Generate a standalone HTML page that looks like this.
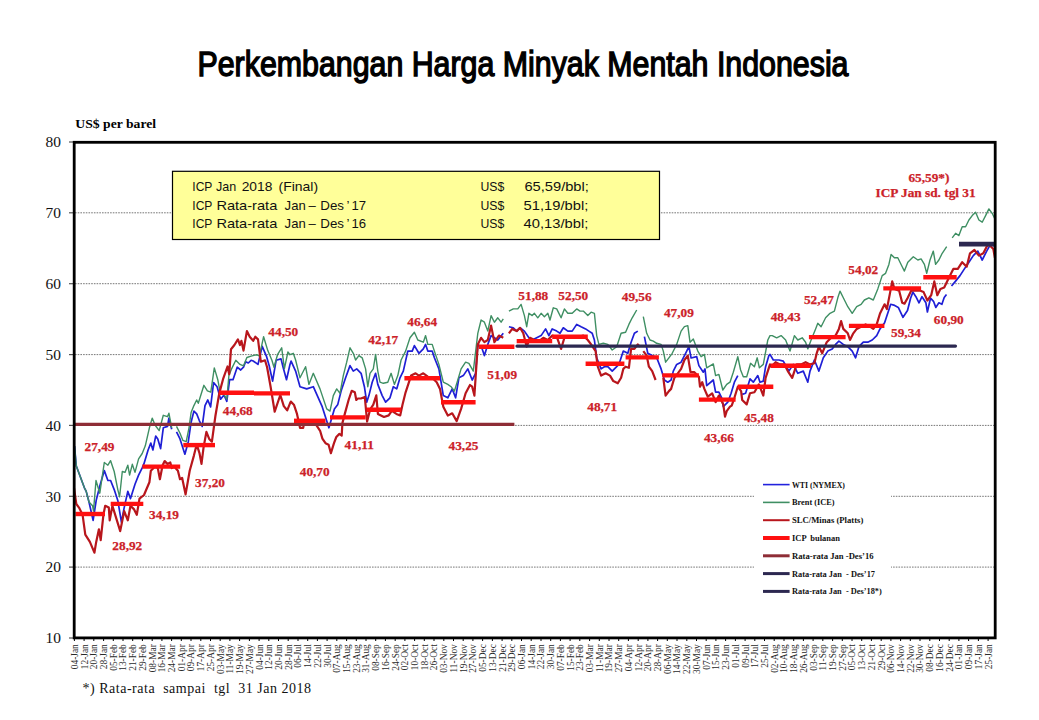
<!DOCTYPE html>
<html><head><meta charset="utf-8"><style>
html,body{margin:0;padding:0;background:#fff;width:1039px;height:720px;overflow:hidden}
svg{display:block}
.yl{font-family:"Liberation Serif",serif;font-size:14.5px;fill:#111}
.xl{font-family:"Liberation Serif",serif;font-size:9.4px;text-anchor:end;fill:#2a2a2a}
.lb{font-family:"Liberation Serif",serif;font-size:13.3px;font-weight:bold;text-anchor:middle;fill:#cc2229;stroke:#cc2229;stroke-width:0.25px}
.lg{font-family:"Liberation Serif",serif;font-size:8.4px;font-weight:bold;fill:#111}
.bx{font-family:"Liberation Sans",sans-serif;font-size:13.5px;fill:#111}
.tt{font-family:"Liberation Sans",sans-serif;font-size:35px;font-weight:normal;fill:#000;stroke:#000;stroke-width:1.4px}
.un{font-family:"Liberation Serif",serif;font-size:13px;font-weight:bold;fill:#000}
.fn{font-family:"Liberation Serif",serif;font-size:14px;fill:#111}
</style></head><body>
<svg width="1039" height="720" viewBox="0 0 1039 720">
<line x1="75" y1="212.8" x2="994" y2="212.8" stroke="#777" stroke-width="1" stroke-dasharray="1.6 1.1"/>
<line x1="75" y1="283.7" x2="994" y2="283.7" stroke="#777" stroke-width="1" stroke-dasharray="1.6 1.1"/>
<line x1="75" y1="354.6" x2="994" y2="354.6" stroke="#777" stroke-width="1" stroke-dasharray="1.6 1.1"/>
<line x1="75" y1="425.4" x2="994" y2="425.4" stroke="#777" stroke-width="1" stroke-dasharray="1.6 1.1"/>
<line x1="75" y1="496.3" x2="994" y2="496.3" stroke="#777" stroke-width="1" stroke-dasharray="1.6 1.1"/>
<line x1="75" y1="567.1" x2="994" y2="567.1" stroke="#777" stroke-width="1" stroke-dasharray="1.6 1.1"/>
<rect x="754" y="474" width="137" height="128" fill="#fff"/>
<line x1="69" y1="142.0" x2="75" y2="142.0" stroke="#555" stroke-width="1.2"/>
<text x="45.6" y="147.2" class="yl" textLength="15.4" lengthAdjust="spacingAndGlyphs">80</text>
<line x1="69" y1="212.8" x2="75" y2="212.8" stroke="#555" stroke-width="1.2"/>
<text x="45.6" y="218.0" class="yl" textLength="15.4" lengthAdjust="spacingAndGlyphs">70</text>
<line x1="69" y1="283.7" x2="75" y2="283.7" stroke="#555" stroke-width="1.2"/>
<text x="45.6" y="288.9" class="yl" textLength="15.4" lengthAdjust="spacingAndGlyphs">60</text>
<line x1="69" y1="354.6" x2="75" y2="354.6" stroke="#555" stroke-width="1.2"/>
<text x="45.6" y="359.8" class="yl" textLength="15.4" lengthAdjust="spacingAndGlyphs">50</text>
<line x1="69" y1="425.4" x2="75" y2="425.4" stroke="#555" stroke-width="1.2"/>
<text x="45.6" y="430.6" class="yl" textLength="15.4" lengthAdjust="spacingAndGlyphs">40</text>
<line x1="69" y1="496.3" x2="75" y2="496.3" stroke="#555" stroke-width="1.2"/>
<text x="45.6" y="501.5" class="yl" textLength="15.4" lengthAdjust="spacingAndGlyphs">30</text>
<line x1="69" y1="567.1" x2="75" y2="567.1" stroke="#555" stroke-width="1.2"/>
<text x="45.6" y="572.3" class="yl" textLength="15.4" lengthAdjust="spacingAndGlyphs">20</text>
<line x1="69" y1="638.0" x2="75" y2="638.0" stroke="#555" stroke-width="1.2"/>
<text x="45.6" y="643.2" class="yl" textLength="15.4" lengthAdjust="spacingAndGlyphs">10</text>
<line x1="74.4" y1="638" x2="74.4" y2="641" stroke="#000" stroke-width="1"/>
<text transform="translate(77.8,644.2) rotate(-90)" class="xl">04-Jan</text>
<line x1="84.1" y1="638" x2="84.1" y2="641" stroke="#000" stroke-width="1"/>
<text transform="translate(87.5,644.2) rotate(-90)" class="xl">12-Jan</text>
<line x1="93.8" y1="638" x2="93.8" y2="641" stroke="#000" stroke-width="1"/>
<text transform="translate(97.2,644.2) rotate(-90)" class="xl">20-Jan</text>
<line x1="103.6" y1="638" x2="103.6" y2="641" stroke="#000" stroke-width="1"/>
<text transform="translate(107.0,644.2) rotate(-90)" class="xl">28-Jan</text>
<line x1="113.3" y1="638" x2="113.3" y2="641" stroke="#000" stroke-width="1"/>
<text transform="translate(116.7,644.2) rotate(-90)" class="xl">05-Feb</text>
<line x1="123.0" y1="638" x2="123.0" y2="641" stroke="#000" stroke-width="1"/>
<text transform="translate(126.4,644.2) rotate(-90)" class="xl">13-Feb</text>
<line x1="132.7" y1="638" x2="132.7" y2="641" stroke="#000" stroke-width="1"/>
<text transform="translate(136.1,644.2) rotate(-90)" class="xl">21-Feb</text>
<line x1="142.4" y1="638" x2="142.4" y2="641" stroke="#000" stroke-width="1"/>
<text transform="translate(145.8,644.2) rotate(-90)" class="xl">29-Feb</text>
<line x1="152.2" y1="638" x2="152.2" y2="641" stroke="#000" stroke-width="1"/>
<text transform="translate(155.6,644.2) rotate(-90)" class="xl">08-Mar</text>
<line x1="161.9" y1="638" x2="161.9" y2="641" stroke="#000" stroke-width="1"/>
<text transform="translate(165.3,644.2) rotate(-90)" class="xl">16-Mar</text>
<line x1="171.6" y1="638" x2="171.6" y2="641" stroke="#000" stroke-width="1"/>
<text transform="translate(175.0,644.2) rotate(-90)" class="xl">24-Mar</text>
<line x1="181.3" y1="638" x2="181.3" y2="641" stroke="#000" stroke-width="1"/>
<text transform="translate(184.7,644.2) rotate(-90)" class="xl">01-Apr</text>
<line x1="191.0" y1="638" x2="191.0" y2="641" stroke="#000" stroke-width="1"/>
<text transform="translate(194.4,644.2) rotate(-90)" class="xl">09-Apr</text>
<line x1="200.8" y1="638" x2="200.8" y2="641" stroke="#000" stroke-width="1"/>
<text transform="translate(204.2,644.2) rotate(-90)" class="xl">17-Apr</text>
<line x1="210.5" y1="638" x2="210.5" y2="641" stroke="#000" stroke-width="1"/>
<text transform="translate(213.9,644.2) rotate(-90)" class="xl">25-Apr</text>
<line x1="220.2" y1="638" x2="220.2" y2="641" stroke="#000" stroke-width="1"/>
<text transform="translate(223.6,644.2) rotate(-90)" class="xl">03-May</text>
<line x1="229.9" y1="638" x2="229.9" y2="641" stroke="#000" stroke-width="1"/>
<text transform="translate(233.3,644.2) rotate(-90)" class="xl">11-May</text>
<line x1="239.6" y1="638" x2="239.6" y2="641" stroke="#000" stroke-width="1"/>
<text transform="translate(243.0,644.2) rotate(-90)" class="xl">19-May</text>
<line x1="249.4" y1="638" x2="249.4" y2="641" stroke="#000" stroke-width="1"/>
<text transform="translate(252.8,644.2) rotate(-90)" class="xl">27-May</text>
<line x1="259.1" y1="638" x2="259.1" y2="641" stroke="#000" stroke-width="1"/>
<text transform="translate(262.5,644.2) rotate(-90)" class="xl">04-Jun</text>
<line x1="268.8" y1="638" x2="268.8" y2="641" stroke="#000" stroke-width="1"/>
<text transform="translate(272.2,644.2) rotate(-90)" class="xl">12-Jun</text>
<line x1="278.5" y1="638" x2="278.5" y2="641" stroke="#000" stroke-width="1"/>
<text transform="translate(281.9,644.2) rotate(-90)" class="xl">20-Jun</text>
<line x1="288.2" y1="638" x2="288.2" y2="641" stroke="#000" stroke-width="1"/>
<text transform="translate(291.6,644.2) rotate(-90)" class="xl">28-Jun</text>
<line x1="298.0" y1="638" x2="298.0" y2="641" stroke="#000" stroke-width="1"/>
<text transform="translate(301.4,644.2) rotate(-90)" class="xl">06-Jul</text>
<line x1="307.7" y1="638" x2="307.7" y2="641" stroke="#000" stroke-width="1"/>
<text transform="translate(311.1,644.2) rotate(-90)" class="xl">14-Jul</text>
<line x1="317.4" y1="638" x2="317.4" y2="641" stroke="#000" stroke-width="1"/>
<text transform="translate(320.8,644.2) rotate(-90)" class="xl">22-Jul</text>
<line x1="327.1" y1="638" x2="327.1" y2="641" stroke="#000" stroke-width="1"/>
<text transform="translate(330.5,644.2) rotate(-90)" class="xl">30-Jul</text>
<line x1="336.8" y1="638" x2="336.8" y2="641" stroke="#000" stroke-width="1"/>
<text transform="translate(340.2,644.2) rotate(-90)" class="xl">07-Aug</text>
<line x1="346.6" y1="638" x2="346.6" y2="641" stroke="#000" stroke-width="1"/>
<text transform="translate(350.0,644.2) rotate(-90)" class="xl">15-Aug</text>
<line x1="356.3" y1="638" x2="356.3" y2="641" stroke="#000" stroke-width="1"/>
<text transform="translate(359.7,644.2) rotate(-90)" class="xl">23-Aug</text>
<line x1="366.0" y1="638" x2="366.0" y2="641" stroke="#000" stroke-width="1"/>
<text transform="translate(369.4,644.2) rotate(-90)" class="xl">31-Aug</text>
<line x1="375.7" y1="638" x2="375.7" y2="641" stroke="#000" stroke-width="1"/>
<text transform="translate(379.1,644.2) rotate(-90)" class="xl">08-Sep</text>
<line x1="385.4" y1="638" x2="385.4" y2="641" stroke="#000" stroke-width="1"/>
<text transform="translate(388.8,644.2) rotate(-90)" class="xl">16-Sep</text>
<line x1="395.2" y1="638" x2="395.2" y2="641" stroke="#000" stroke-width="1"/>
<text transform="translate(398.6,644.2) rotate(-90)" class="xl">24-Sep</text>
<line x1="404.9" y1="638" x2="404.9" y2="641" stroke="#000" stroke-width="1"/>
<text transform="translate(408.3,644.2) rotate(-90)" class="xl">02-Oct</text>
<line x1="414.6" y1="638" x2="414.6" y2="641" stroke="#000" stroke-width="1"/>
<text transform="translate(418.0,644.2) rotate(-90)" class="xl">10-Oct</text>
<line x1="424.3" y1="638" x2="424.3" y2="641" stroke="#000" stroke-width="1"/>
<text transform="translate(427.7,644.2) rotate(-90)" class="xl">18-Oct</text>
<line x1="434.0" y1="638" x2="434.0" y2="641" stroke="#000" stroke-width="1"/>
<text transform="translate(437.4,644.2) rotate(-90)" class="xl">26-Oct</text>
<line x1="443.8" y1="638" x2="443.8" y2="641" stroke="#000" stroke-width="1"/>
<text transform="translate(447.2,644.2) rotate(-90)" class="xl">03-Nov</text>
<line x1="453.5" y1="638" x2="453.5" y2="641" stroke="#000" stroke-width="1"/>
<text transform="translate(456.9,644.2) rotate(-90)" class="xl">11-Nov</text>
<line x1="463.2" y1="638" x2="463.2" y2="641" stroke="#000" stroke-width="1"/>
<text transform="translate(466.6,644.2) rotate(-90)" class="xl">19-Nov</text>
<line x1="472.9" y1="638" x2="472.9" y2="641" stroke="#000" stroke-width="1"/>
<text transform="translate(476.3,644.2) rotate(-90)" class="xl">27-Nov</text>
<line x1="482.6" y1="638" x2="482.6" y2="641" stroke="#000" stroke-width="1"/>
<text transform="translate(486.0,644.2) rotate(-90)" class="xl">05-Dec</text>
<line x1="492.4" y1="638" x2="492.4" y2="641" stroke="#000" stroke-width="1"/>
<text transform="translate(495.8,644.2) rotate(-90)" class="xl">13-Dec</text>
<line x1="502.1" y1="638" x2="502.1" y2="641" stroke="#000" stroke-width="1"/>
<text transform="translate(505.5,644.2) rotate(-90)" class="xl">21-Dec</text>
<line x1="511.8" y1="638" x2="511.8" y2="641" stroke="#000" stroke-width="1"/>
<text transform="translate(515.2,644.2) rotate(-90)" class="xl">29-Dec</text>
<line x1="521.5" y1="638" x2="521.5" y2="641" stroke="#000" stroke-width="1"/>
<text transform="translate(524.9,644.2) rotate(-90)" class="xl">06-Jan</text>
<line x1="531.2" y1="638" x2="531.2" y2="641" stroke="#000" stroke-width="1"/>
<text transform="translate(534.6,644.2) rotate(-90)" class="xl">14-Jan</text>
<line x1="541.0" y1="638" x2="541.0" y2="641" stroke="#000" stroke-width="1"/>
<text transform="translate(544.4,644.2) rotate(-90)" class="xl">22-Jan</text>
<line x1="550.7" y1="638" x2="550.7" y2="641" stroke="#000" stroke-width="1"/>
<text transform="translate(554.1,644.2) rotate(-90)" class="xl">30-Jan</text>
<line x1="560.4" y1="638" x2="560.4" y2="641" stroke="#000" stroke-width="1"/>
<text transform="translate(563.8,644.2) rotate(-90)" class="xl">07-Feb</text>
<line x1="570.1" y1="638" x2="570.1" y2="641" stroke="#000" stroke-width="1"/>
<text transform="translate(573.5,644.2) rotate(-90)" class="xl">15-Feb</text>
<line x1="579.8" y1="638" x2="579.8" y2="641" stroke="#000" stroke-width="1"/>
<text transform="translate(583.2,644.2) rotate(-90)" class="xl">23-Feb</text>
<line x1="589.6" y1="638" x2="589.6" y2="641" stroke="#000" stroke-width="1"/>
<text transform="translate(593.0,644.2) rotate(-90)" class="xl">03-Mar</text>
<line x1="599.3" y1="638" x2="599.3" y2="641" stroke="#000" stroke-width="1"/>
<text transform="translate(602.7,644.2) rotate(-90)" class="xl">11-Mar</text>
<line x1="609.0" y1="638" x2="609.0" y2="641" stroke="#000" stroke-width="1"/>
<text transform="translate(612.4,644.2) rotate(-90)" class="xl">19-Mar</text>
<line x1="618.7" y1="638" x2="618.7" y2="641" stroke="#000" stroke-width="1"/>
<text transform="translate(622.1,644.2) rotate(-90)" class="xl">27-Mar</text>
<line x1="628.4" y1="638" x2="628.4" y2="641" stroke="#000" stroke-width="1"/>
<text transform="translate(631.8,644.2) rotate(-90)" class="xl">04-Apr</text>
<line x1="638.2" y1="638" x2="638.2" y2="641" stroke="#000" stroke-width="1"/>
<text transform="translate(641.6,644.2) rotate(-90)" class="xl">12-Apr</text>
<line x1="647.9" y1="638" x2="647.9" y2="641" stroke="#000" stroke-width="1"/>
<text transform="translate(651.3,644.2) rotate(-90)" class="xl">20-Apr</text>
<line x1="657.6" y1="638" x2="657.6" y2="641" stroke="#000" stroke-width="1"/>
<text transform="translate(661.0,644.2) rotate(-90)" class="xl">28-Apr</text>
<line x1="667.3" y1="638" x2="667.3" y2="641" stroke="#000" stroke-width="1"/>
<text transform="translate(670.7,644.2) rotate(-90)" class="xl">06-May</text>
<line x1="677.0" y1="638" x2="677.0" y2="641" stroke="#000" stroke-width="1"/>
<text transform="translate(680.4,644.2) rotate(-90)" class="xl">14-May</text>
<line x1="686.8" y1="638" x2="686.8" y2="641" stroke="#000" stroke-width="1"/>
<text transform="translate(690.2,644.2) rotate(-90)" class="xl">22-May</text>
<line x1="696.5" y1="638" x2="696.5" y2="641" stroke="#000" stroke-width="1"/>
<text transform="translate(699.9,644.2) rotate(-90)" class="xl">30-May</text>
<line x1="706.2" y1="638" x2="706.2" y2="641" stroke="#000" stroke-width="1"/>
<text transform="translate(709.6,644.2) rotate(-90)" class="xl">07-Jun</text>
<line x1="715.9" y1="638" x2="715.9" y2="641" stroke="#000" stroke-width="1"/>
<text transform="translate(719.3,644.2) rotate(-90)" class="xl">15-Jun</text>
<line x1="725.6" y1="638" x2="725.6" y2="641" stroke="#000" stroke-width="1"/>
<text transform="translate(729.0,644.2) rotate(-90)" class="xl">23-Jun</text>
<line x1="735.4" y1="638" x2="735.4" y2="641" stroke="#000" stroke-width="1"/>
<text transform="translate(738.8,644.2) rotate(-90)" class="xl">01-Jul</text>
<line x1="745.1" y1="638" x2="745.1" y2="641" stroke="#000" stroke-width="1"/>
<text transform="translate(748.5,644.2) rotate(-90)" class="xl">09-Jul</text>
<line x1="754.8" y1="638" x2="754.8" y2="641" stroke="#000" stroke-width="1"/>
<text transform="translate(758.2,644.2) rotate(-90)" class="xl">17-Jul</text>
<line x1="764.5" y1="638" x2="764.5" y2="641" stroke="#000" stroke-width="1"/>
<text transform="translate(767.9,644.2) rotate(-90)" class="xl">25-Jul</text>
<line x1="774.2" y1="638" x2="774.2" y2="641" stroke="#000" stroke-width="1"/>
<text transform="translate(777.6,644.2) rotate(-90)" class="xl">02-Aug</text>
<line x1="784.0" y1="638" x2="784.0" y2="641" stroke="#000" stroke-width="1"/>
<text transform="translate(787.4,644.2) rotate(-90)" class="xl">10-Aug</text>
<line x1="793.7" y1="638" x2="793.7" y2="641" stroke="#000" stroke-width="1"/>
<text transform="translate(797.1,644.2) rotate(-90)" class="xl">18-Aug</text>
<line x1="803.4" y1="638" x2="803.4" y2="641" stroke="#000" stroke-width="1"/>
<text transform="translate(806.8,644.2) rotate(-90)" class="xl">26-Aug</text>
<line x1="813.1" y1="638" x2="813.1" y2="641" stroke="#000" stroke-width="1"/>
<text transform="translate(816.5,644.2) rotate(-90)" class="xl">03-Sep</text>
<line x1="822.8" y1="638" x2="822.8" y2="641" stroke="#000" stroke-width="1"/>
<text transform="translate(826.2,644.2) rotate(-90)" class="xl">11-Sep</text>
<line x1="832.6" y1="638" x2="832.6" y2="641" stroke="#000" stroke-width="1"/>
<text transform="translate(836.0,644.2) rotate(-90)" class="xl">19-Sep</text>
<line x1="842.3" y1="638" x2="842.3" y2="641" stroke="#000" stroke-width="1"/>
<text transform="translate(845.7,644.2) rotate(-90)" class="xl">27-Sep</text>
<line x1="852.0" y1="638" x2="852.0" y2="641" stroke="#000" stroke-width="1"/>
<text transform="translate(855.4,644.2) rotate(-90)" class="xl">05-Oct</text>
<line x1="861.7" y1="638" x2="861.7" y2="641" stroke="#000" stroke-width="1"/>
<text transform="translate(865.1,644.2) rotate(-90)" class="xl">13-Oct</text>
<line x1="871.4" y1="638" x2="871.4" y2="641" stroke="#000" stroke-width="1"/>
<text transform="translate(874.8,644.2) rotate(-90)" class="xl">21-Oct</text>
<line x1="881.2" y1="638" x2="881.2" y2="641" stroke="#000" stroke-width="1"/>
<text transform="translate(884.6,644.2) rotate(-90)" class="xl">29-Oct</text>
<line x1="890.9" y1="638" x2="890.9" y2="641" stroke="#000" stroke-width="1"/>
<text transform="translate(894.3,644.2) rotate(-90)" class="xl">06-Nov</text>
<line x1="900.6" y1="638" x2="900.6" y2="641" stroke="#000" stroke-width="1"/>
<text transform="translate(904.0,644.2) rotate(-90)" class="xl">14-Nov</text>
<line x1="910.3" y1="638" x2="910.3" y2="641" stroke="#000" stroke-width="1"/>
<text transform="translate(913.7,644.2) rotate(-90)" class="xl">22-Nov</text>
<line x1="920.0" y1="638" x2="920.0" y2="641" stroke="#000" stroke-width="1"/>
<text transform="translate(923.4,644.2) rotate(-90)" class="xl">30-Nov</text>
<line x1="929.8" y1="638" x2="929.8" y2="641" stroke="#000" stroke-width="1"/>
<text transform="translate(933.2,644.2) rotate(-90)" class="xl">08-Dec</text>
<line x1="939.5" y1="638" x2="939.5" y2="641" stroke="#000" stroke-width="1"/>
<text transform="translate(942.9,644.2) rotate(-90)" class="xl">16-Dec</text>
<line x1="949.2" y1="638" x2="949.2" y2="641" stroke="#000" stroke-width="1"/>
<text transform="translate(952.6,644.2) rotate(-90)" class="xl">24-Dec</text>
<line x1="958.9" y1="638" x2="958.9" y2="641" stroke="#000" stroke-width="1"/>
<text transform="translate(962.3,644.2) rotate(-90)" class="xl">01-Jan</text>
<line x1="968.6" y1="638" x2="968.6" y2="641" stroke="#000" stroke-width="1"/>
<text transform="translate(972.0,644.2) rotate(-90)" class="xl">09-Jan</text>
<line x1="978.4" y1="638" x2="978.4" y2="641" stroke="#000" stroke-width="1"/>
<text transform="translate(981.8,644.2) rotate(-90)" class="xl">17-Jan</text>
<line x1="988.1" y1="638" x2="988.1" y2="641" stroke="#000" stroke-width="1"/>
<text transform="translate(991.5,644.2) rotate(-90)" class="xl">25-Jan</text>
<path d="M74.5,446.0 L76.3,466.0 L79.0,473.3 L84.4,487.8 L86.2,491.4 L89.0,502.0 L93.1,520.3 L96.2,500.4 L99.8,486.0 L104.3,470.6 L107.9,480.5 L110.6,480.5 L114.2,489.6 L117.8,500.4 L121.4,522.1 L124.2,507.6 L127.8,491.4 L130.5,498.6 L135.0,484.2 L138.6,475.1 L142.2,467.9 L143.9,463.9 L148.1,450.0 L150.8,443.1 L152.9,450.0 L155.7,436.1 L157.8,438.9 L160.6,448.6 L163.3,427.8 L167.5,426.4 L168.9,418.1 L171.7,429.2 M176.5,431.9 L180.0,438.9 L184.9,454.2 L188.3,441.7 L191.1,422.2 L193.9,411.1 L196.7,413.9 L199.4,420.8 L202.2,426.4 L205.0,405.6 L207.8,400.0 L210.6,406.9 L213.6,382.5 L217.1,386.7 L220.6,399.2 L224.0,395.0 L226.8,401.3 L229.6,379.7 L233.0,379.7 L237.2,367.2 L240.7,370.0 L243.5,367.2 L245.6,361.7 L248.3,363.0 L251.1,360.3 L253.2,361.0 L258.0,364.4 L262.2,346.4 L266.4,356.1 L269.2,365.8 L272.6,381.1 L276.1,360.3 L281.0,358.9 L283.1,367.2 L286.5,379.7 L290.0,364.4 L291.1,361.1 L295.6,371.1 L300.0,386.7 L306.7,388.9 L313.3,386.7 L322.2,406.7 L328.9,427.8 L334.4,408.9 L337.8,404.4 L341.1,391.1 L345.6,377.8 L350.0,365.6 L353.3,371.1 L356.7,368.9 L361.1,373.3 L364.4,386.7 L366.7,402.2 L368.9,395.6 L372.2,382.2 L375.6,373.3 L377.8,384.4 L382.2,395.6 L385.6,402.2 L390.0,397.8 L393.3,386.7 L396.7,388.9 L400.0,377.8 L403.3,371.1 L407.8,351.1 L412.2,351.1 L414.4,345.6 L418.9,353.3 L423.3,348.9 L425.6,344.4 L427.8,351.1 L432.2,351.1 L434.4,357.8 L438.9,368.9 L443.3,395.6 L447.8,397.8 L452.2,388.9 L455.6,397.8 L458.9,377.8 L463.3,375.6 L467.8,368.9 L472.2,380.0 L475.6,373.3 L477.8,344.4 L482.2,348.9 L484.4,355.6 L487.8,344.4 L491.1,335.6 L494.4,337.8 L497.8,340.0 L503.3,333.3 M508.9,326.7 L513.3,327.8 L516.7,331.1 L520.0,327.8 L524.4,331.1 L528.9,337.8 L532.2,340.0 L536.7,337.8 L541.1,335.6 L545.6,328.9 L548.9,335.6 L552.2,328.9 L556.7,331.1 L560.0,333.3 L563.3,327.8 L567.8,331.1 L572.2,331.1 L576.7,324.4 L581.1,326.7 L585.6,328.9 L588.9,331.1 L592.2,333.3 L594.4,340.0 L596.7,357.8 L601.1,368.9 L604.4,366.7 L607.8,366.7 L612.2,371.1 L618.9,364.4 L623.3,351.1 L627.8,353.3 L631.1,342.2 L634.4,333.3 L637.8,331.1 M644.4,336.7 L647.8,353.3 L652.2,355.6 L656.7,357.8 L661.1,368.9 L664.4,380.0 L667.8,382.2 L671.1,380.0 L673.3,371.1 L676.7,364.4 L681.1,362.2 L685.6,353.3 L688.9,346.7 L691.1,358.0 L696.7,356.7 L698.9,365.6 L703.3,372.2 L705.0,368.9 L706.7,385.6 L713.3,380.0 L715.6,392.2 L718.9,392.2 L721.7,397.8 L723.3,406.7 L727.8,402.2 L731.1,393.3 L734.4,382.2 L737.8,375.6 M742.2,394.4 L745.6,393.3 L750.0,378.9 L753.3,382.2 L757.8,375.6 L760.0,382.2 L763.3,381.1 L765.6,366.7 L768.9,355.6 L770.0,354.4 L773.3,360.0 L778.9,360.0 L783.3,361.1 L788.9,371.1 L793.3,364.4 L797.8,373.3 L803.3,371.1 L807.8,382.2 L810.0,371.1 L814.4,360.0 L818.9,371.1 L823.3,357.8 L827.8,351.1 L832.2,348.9 L835.6,344.4 L838.9,341.1 L843.3,344.4 L847.8,346.7 L852.2,351.1 L855.6,357.8 L858.9,346.7 L863.3,342.2 L867.8,342.2 L872.2,340.0 L876.7,335.6 L880.0,328.9 L884.6,322.7 L890.7,304.3 L893.8,305.1 L898.3,307.4 L903.0,317.3 L907.5,310.5 L910.6,298.2 L912.9,292.1 L915.9,296.7 L919.0,302.8 L922.0,296.7 L925.9,302.8 L927.4,312.0 L930.5,298.2 L933.5,301.3 L935.8,307.4 L938.9,302.8 L941.9,304.3 L944.2,297.5 L946.5,294.4 M951.5,286.0 L955.6,281.1 L960.0,275.6 L964.4,268.9 L968.9,262.2 L973.3,255.6 L977.8,251.1 L982.2,260.0 L986.7,251.1 L991.1,243.3 L994.9,246.7" fill="none" stroke="#1f1fd6" stroke-width="1.7" stroke-linejoin="round"/>
<path d="M74.5,446.0 L76.3,466.0 L79.0,473.3 L84.4,487.8 L86.2,491.4 L89.0,502.0 L92.6,505.8 L93.5,511.0 L96.0,480.5 L99.8,493.2 L104.3,462.5 L107.9,465.2 L110.6,460.7 L114.2,471.5 L117.8,489.6 L119.6,496.8 L122.3,471.5 L125.0,472.4 L127.8,465.2 L129.6,475.1 L132.3,464.3 L135.0,472.4 L138.6,458.9 L142.2,453.5 L145.3,445.8 L149.4,427.8 L152.2,418.1 L155.0,425.0 L159.2,430.6 L163.3,415.3 L167.5,416.7 L168.9,413.2 L171.7,427.8 M176.5,426.4 L180.0,433.3 L182.8,440.3 L186.2,441.7 L189.0,427.8 L191.1,412.5 L193.9,405.6 L196.7,400.0 L198.3,403.3 L203.9,385.3 L207.4,390.8 L210.8,392.2 L214.3,367.9 L217.8,379.7 L219.9,390.8 L223.3,393.6 L226.8,399.2 L228.9,375.6 L231.7,368.6 L235.8,360.3 L240.0,364.4 L243.5,365.8 L246.9,357.5 L251.1,356.1 L256.7,354.7 L259.4,356.1 L263.6,336.7 L267.8,350.6 L271.9,360.3 L274.0,367.2 L277.5,354.7 L281.7,347.8 L284.4,368.6 L287.9,352.0 L290.0,354.7 L293.3,353.3 L295.6,360.0 L300.0,377.8 L305.6,366.7 L308.9,384.4 L313.3,373.3 L320.0,388.9 L326.7,408.9 L330.0,411.1 L333.3,395.6 L336.7,388.9 L340.0,393.3 L343.3,375.6 L346.7,362.2 L350.0,347.8 L353.3,353.3 L355.6,360.0 L358.9,355.6 L362.2,357.8 L365.6,368.9 L367.8,386.7 L370.0,373.3 L373.3,368.9 L375.6,354.4 L377.8,371.1 L380.0,382.2 L383.3,383.3 L387.8,382.2 L391.1,373.3 L394.4,384.4 L397.8,375.6 L401.1,360.0 L405.6,351.1 L410.0,337.8 L414.4,332.2 L417.8,340.0 L423.3,342.2 L425.6,335.6 L427.8,344.4 L432.2,344.4 L434.4,351.1 L438.9,364.4 L443.3,382.2 L447.8,384.4 L451.1,386.7 L454.4,391.1 L457.8,380.0 L461.1,368.9 L465.6,362.2 L468.9,363.3 L473.3,371.1 L477.8,333.3 L481.1,320.0 L484.4,322.2 L487.8,331.1 L491.1,315.6 L494.4,322.2 L497.8,317.8 L501.1,322.2 L503.3,318.9 M508.9,311.1 L513.3,308.9 L517.8,308.9 L521.1,304.4 L524.4,315.6 L526.7,326.7 L528.9,313.3 L532.2,315.6 L534.4,313.3 L537.8,317.8 L541.1,313.3 L544.4,316.7 L547.8,313.3 L550.0,320.0 L553.3,307.8 L556.7,308.9 L561.1,317.8 L564.4,308.9 L567.8,313.3 L572.2,313.3 L576.7,308.9 L580.0,311.1 L583.3,311.1 L587.8,315.6 L591.1,312.2 L594.4,313.3 L596.7,335.6 L598.9,344.4 L603.3,343.3 L607.8,344.4 L612.2,350.0 L616.7,346.7 L621.1,333.3 L625.6,332.2 L628.9,324.4 L632.2,317.8 L636.7,310.0 M643.3,316.7 L646.7,333.3 L650.0,340.0 L653.3,341.1 L656.7,343.3 L661.1,344.4 L663.3,351.1 L665.6,362.2 L668.9,357.8 L672.2,353.3 L676.7,344.4 L681.1,331.1 L684.4,326.7 L687.8,325.6 L690.0,342.2 L693.3,338.9 L697.8,351.1 L701.1,356.7 L704.4,354.4 L706.7,367.8 L713.3,363.9 L715.6,375.6 L718.9,374.4 L722.8,390.0 L726.7,384.4 L730.0,382.2 L733.3,372.2 L737.8,356.7 L740.6,370.0 L743.3,376.7 L746.7,376.7 L750.6,363.3 L754.4,366.7 L757.2,357.8 L759.4,367.8 L763.3,364.4 L767.8,340.0 L770.0,335.6 L772.2,335.6 L776.7,337.8 L781.1,335.6 L785.6,340.0 L790.0,351.1 L794.4,335.6 L797.8,340.0 L802.2,337.8 L805.6,342.2 L807.8,348.9 L811.1,340.0 L815.6,328.9 L817.8,323.3 L821.1,326.7 L825.6,317.8 L830.0,313.3 L834.4,311.1 L837.8,297.8 L840.0,291.1 L843.3,297.8 L847.8,306.7 L852.2,313.3 L856.7,306.7 L861.1,304.4 L864.4,300.0 L868.9,297.8 L873.3,300.0 L877.8,288.9 L882.2,275.6 L885.6,273.3 L888.9,264.4 L891.1,254.4 L894.4,257.8 L897.8,257.8 L902.2,266.7 L904.4,271.1 L907.8,262.2 L913.3,256.7 L917.8,260.0 L921.1,258.9 L924.4,264.4 L926.7,273.3 L930.0,260.0 L933.3,251.1 L935.6,264.4 L938.9,260.0 L942.2,253.3 L946.7,246.7 M952.2,237.8 L955.6,233.3 L958.9,235.6 L962.2,226.7 L965.6,226.7 L968.9,220.0 L972.2,215.6 L975.6,212.2 L978.9,220.0 L982.2,222.2 L985.6,215.6 L988.9,208.9 L992.2,213.3 L994.9,218.9" fill="none" stroke="#3f8f63" stroke-width="1.4" stroke-linejoin="round"/>
<path d="M74.0,487.8 L76.3,504.0 L79.0,507.6 L82.6,514.8 L85.3,534.7 L89.9,541.9 L94.4,552.7 L96.2,541.9 L98.9,529.3 L100.7,540.1 L103.4,514.8 L105.2,505.8 L108.8,507.6 L109.7,520.3 L112.4,505.8 L116.9,520.3 L120.2,531.1 L124.2,511.2 L127.8,520.3 L130.5,505.8 L134.1,509.4 L136.8,514.8 L139.5,498.6 L144.0,495.0 L149.4,482.3 L150.8,470.8 L155.0,466.7 L157.8,468.1 L159.9,479.2 L162.6,465.3 L164.7,461.1 L167.5,463.9 L170.3,462.5 L171.7,468.1 L174.4,466.7 L177.9,470.8 L180.0,479.2 L182.1,477.8 L185.6,494.4 L189.7,470.8 L193.9,455.6 L196.7,444.4 L199.4,452.8 L201.5,463.9 L203.6,447.2 L206.4,431.9 L209.2,438.9 L211.9,441.7 L215.4,416.0 L219.2,393.6 L223.3,378.3 L227.5,366.5 L229.2,374.2 L231.0,349.2 L234.4,345.0 L237.9,339.4 L240.0,345.0 L241.4,340.8 L243.5,350.6 L246.9,331.1 L249.7,336.7 L253.2,340.8 L255.3,336.7 L258.0,339.4 L260.8,361.7 L265.0,360.3 L267.1,367.2 L270.6,386.7 L274.7,411.7 L280.3,395.0 L283.8,406.1 L287.2,410.3 L290.0,403.3 L290.8,401.6 L293.9,404.7 L297.0,413.9 L300.0,427.8 L303.2,427.8 L304.7,420.1 L308.6,420.1 L313.2,420.1 L317.0,426.2 L320.1,430.8 L322.4,438.6 L325.5,443.2 L328.6,444.7 L330.9,453.2 L334.0,443.2 L336.3,437.0 L339.4,433.9 L341.7,435.5 L342.4,423.1 L344.8,413.9 L348.6,400.0 L351.7,390.8 L354.8,392.3 L356.3,400.0 L357.9,398.5 L360.9,398.5 L364.8,396.9 L367.1,421.6 L370.2,409.3 L373.3,404.7 L376.3,395.4 L377.9,413.9 L384.0,417.0 L388.7,415.4 L391.8,410.8 L396.4,413.9 L400.2,415.4 L402.5,404.7 L405.6,392.3 L411.1,375.6 L415.6,373.3 L418.9,375.6 L423.3,373.3 L427.8,376.7 L432.2,377.8 L436.7,382.2 L440.0,388.9 L443.3,406.7 L447.8,415.6 L452.2,413.3 L456.7,421.1 L461.1,408.9 L465.6,393.3 L470.0,385.0 L472.2,386.7 L474.4,395.6 L477.8,344.4 L481.1,337.8 L484.4,342.2 L487.8,340.0 L491.1,325.6 L494.4,342.2 L498.9,335.6 L503.3,337.8 M508.9,333.3 L512.2,328.9 L516.7,331.1 L520.0,327.8 L523.3,333.3 L526.7,346.7 L530.0,337.8 L534.4,340.0 L538.9,341.1 L543.3,337.8 L547.8,340.0 L552.2,335.6 L556.7,336.7 L561.1,348.9 L564.4,337.8 L570.0,337.8 L574.4,336.7 L578.9,336.7 L583.3,335.6 L587.8,340.0 L591.1,344.4 L595.6,351.1 L597.8,366.7 L601.1,375.6 L605.6,373.3 L610.0,375.6 L613.3,381.1 L617.8,383.3 L621.1,377.8 L623.3,368.9 L625.6,366.7 L628.9,367.8 L631.1,348.9 L634.4,348.9 L637.8,344.4 L640.0,346.7 M643.3,351.1 L646.7,355.6 L648.9,366.7 L652.2,371.1 L655.6,380.0 M663.3,377.8 L665.6,395.6 L668.9,391.1 L671.1,388.9 L674.4,377.8 L677.8,373.3 L681.1,368.9 L684.4,360.0 L687.8,355.6 L690.5,372.0 L694.4,372.2 L698.9,376.7 L700.0,386.7 L702.2,382.2 L704.4,388.9 L707.8,396.7 L712.2,393.3 L715.6,402.2 L718.9,395.6 L723.3,404.4 L725.0,416.7 L726.7,411.1 L730.0,406.7 L731.7,405.6 L734.4,397.8 L737.8,386.7 L741.1,391.1 L742.2,400.0 L746.7,404.4 L750.0,393.3 L754.4,392.2 L758.9,384.4 L763.3,395.6 L765.6,377.8 L770.0,364.4 L771.1,366.7 L775.6,362.2 L780.0,364.4 L784.4,364.4 L787.8,371.1 L792.2,377.8 L796.7,364.4 L801.1,364.4 L805.6,362.2 L810.0,364.4 L814.4,363.3 L816.7,353.3 L818.9,346.7 L822.2,353.3 L826.7,342.2 L831.1,337.8 L835.6,335.6 L838.9,328.9 L841.1,321.1 L843.3,328.9 L847.8,333.3 L850.0,340.0 L853.3,333.3 L856.7,328.9 L861.1,326.7 L865.6,324.4 L870.0,326.7 L873.3,328.9 L876.7,324.4 L880.0,313.5 L884.6,304.3 L886.9,309.0 L889.9,293.6 L892.2,281.4 L894.5,289.0 L899.1,290.6 L902.2,302.8 L904.5,303.6 L907.5,298.2 L911.3,290.6 L915.2,290.6 L919.8,290.6 L923.6,292.1 L927.4,300.5 L931.2,295.2 L934.3,281.4 L937.3,295.2 L940.4,289.0 L944.2,287.5 L948.9,277.8 L953.3,268.9 L957.8,268.9 L962.2,262.2 L966.7,266.7 L970.0,253.3 L974.4,250.0 L978.9,255.6 L983.3,253.3 L987.8,244.4 L991.1,246.7 L993.3,248.9 L994.9,257.8" fill="none" stroke="#b8161c" stroke-width="2.2" stroke-linejoin="round"/>
<line x1="75" y1="424.4" x2="514.4" y2="424.4" stroke="#8e2d36" stroke-width="3.2"/>
<line x1="517" y1="346.1" x2="955.5" y2="346.1" stroke="#2c2850" stroke-width="3.2" stroke-linecap="round"/>
<line x1="959" y1="244.1" x2="994" y2="244.1" stroke="#2c2850" stroke-width="4.6"/>
<line x1="75.5" y1="514.0" x2="105.0" y2="514.0" stroke="#ff1010" stroke-width="4.4"/>
<line x1="110.7" y1="503.9" x2="143.3" y2="503.9" stroke="#ff1010" stroke-width="4.4"/>
<line x1="142.4" y1="466.6" x2="180.2" y2="466.6" stroke="#ff1010" stroke-width="4.4"/>
<line x1="183.3" y1="445.1" x2="215.0" y2="445.1" stroke="#ff1010" stroke-width="4.4"/>
<line x1="219.0" y1="392.8" x2="254.0" y2="392.8" stroke="#ff1010" stroke-width="4.4"/>
<line x1="254.0" y1="393.4" x2="290.0" y2="393.4" stroke="#ff1010" stroke-width="4.4"/>
<line x1="294.0" y1="420.8" x2="325.5" y2="420.8" stroke="#ff1010" stroke-width="4.4"/>
<line x1="330.0" y1="417.4" x2="365.6" y2="417.4" stroke="#ff1010" stroke-width="4.4"/>
<line x1="366.7" y1="409.8" x2="401.0" y2="409.8" stroke="#ff1010" stroke-width="4.4"/>
<line x1="404.4" y1="378.3" x2="440.0" y2="378.3" stroke="#ff1010" stroke-width="4.4"/>
<line x1="441.0" y1="402.3" x2="475.6" y2="402.3" stroke="#ff1010" stroke-width="4.4"/>
<line x1="479.0" y1="346.8" x2="514.4" y2="346.8" stroke="#ff1010" stroke-width="4.4"/>
<line x1="516.7" y1="341.1" x2="552.2" y2="341.1" stroke="#ff1010" stroke-width="4.4"/>
<line x1="552.2" y1="336.8" x2="587.8" y2="336.8" stroke="#ff1010" stroke-width="4.4"/>
<line x1="585.6" y1="363.8" x2="624.4" y2="363.8" stroke="#ff1010" stroke-width="4.4"/>
<line x1="625.6" y1="357.4" x2="658.9" y2="357.4" stroke="#ff1010" stroke-width="4.4"/>
<line x1="662.2" y1="375.4" x2="698.9" y2="375.4" stroke="#ff1010" stroke-width="4.4"/>
<line x1="698.9" y1="399.6" x2="735.6" y2="399.6" stroke="#ff1010" stroke-width="4.4"/>
<line x1="737.8" y1="386.7" x2="773.3" y2="386.7" stroke="#ff1010" stroke-width="4.4"/>
<line x1="771.0" y1="365.7" x2="811.0" y2="365.7" stroke="#ff1010" stroke-width="4.4"/>
<line x1="808.9" y1="337.1" x2="845.6" y2="337.1" stroke="#ff1010" stroke-width="4.4"/>
<line x1="848.9" y1="325.9" x2="884.4" y2="325.9" stroke="#ff1010" stroke-width="4.4"/>
<line x1="883.3" y1="288.4" x2="921.1" y2="288.4" stroke="#ff1010" stroke-width="4.4"/>
<line x1="923.3" y1="277.3" x2="956.7" y2="277.3" stroke="#ff1010" stroke-width="4.4"/>
<text x="99.5" y="451.3" class="lb">27,49</text>
<text x="127.3" y="549.9" class="lb">28,92</text>
<text x="164.0" y="518.7" class="lb">34,19</text>
<text x="210.0" y="487.3" class="lb">37,20</text>
<text x="237.8" y="414.7" class="lb">44,68</text>
<text x="283.3" y="336.1" class="lb">44,50</text>
<text x="314.7" y="476.0" class="lb">40,70</text>
<text x="359.2" y="449.3" class="lb">41,11</text>
<text x="383.3" y="343.9" class="lb">42,17</text>
<text x="422.2" y="325.9" class="lb">46,64</text>
<text x="463.5" y="449.7" class="lb">43,25</text>
<text x="502.2" y="379.4" class="lb">51,09</text>
<text x="533.3" y="300.3" class="lb">51,88</text>
<text x="573.3" y="300.3" class="lb">52,50</text>
<text x="636.7" y="301.4" class="lb">49,56</text>
<text x="602.2" y="410.5" class="lb">48,71</text>
<text x="678.9" y="317.2" class="lb">47,09</text>
<text x="718.9" y="442.1" class="lb">43,66</text>
<text x="758.9" y="421.6" class="lb">45,48</text>
<text x="785.6" y="320.5" class="lb">48,43</text>
<text x="818.9" y="304.3" class="lb">52,47</text>
<text x="863.3" y="273.6" class="lb">54,02</text>
<text x="906.0" y="336.9" class="lb">59,34</text>
<text x="948.8" y="323.6" class="lb">60,90</text>
<text x="928.9" y="182.1" class="lb">65,59*)</text>
<text x="925.6" y="197.2" class="lb">ICP Jan sd. tgl 31</text>
<rect x="74.2" y="142.3" width="921" height="495.6" fill="none" stroke="#000" stroke-width="2.8"/>
<line x1="763" y1="484.6" x2="789.6" y2="484.6" stroke="#2222dd" stroke-width="1.6"/>
<text x="792" y="487.6" class="lg" xml:space="preserve" textLength="52.9" lengthAdjust="spacingAndGlyphs">WTI (NYMEX)</text>
<line x1="763" y1="502.4" x2="789.6" y2="502.4" stroke="#3f8f63" stroke-width="1.6"/>
<text x="792" y="505.4" class="lg" xml:space="preserve" textLength="42.6" lengthAdjust="spacingAndGlyphs">Brent (ICE)</text>
<line x1="763" y1="520.2" x2="789.6" y2="520.2" stroke="#b8161c" stroke-width="2"/>
<text x="792" y="523.2" class="lg" xml:space="preserve" textLength="71.3" lengthAdjust="spacingAndGlyphs">SLC/Minas (Platts)</text>
<line x1="763" y1="538.0" x2="789.6" y2="538.0" stroke="#ff1010" stroke-width="4"/>
<text x="792" y="541.0" class="lg" xml:space="preserve" textLength="48" lengthAdjust="spacingAndGlyphs">ICP  bulanan</text>
<line x1="763" y1="555.8" x2="789.6" y2="555.8" stroke="#8e2d36" stroke-width="3"/>
<text x="792" y="558.8" class="lg" xml:space="preserve" textLength="81.6" lengthAdjust="spacingAndGlyphs">Rata-rata Jan -Des’16</text>
<line x1="763" y1="573.6" x2="789.6" y2="573.6" stroke="#2c2850" stroke-width="3"/>
<text x="792" y="576.6" class="lg" xml:space="preserve" textLength="83" lengthAdjust="spacingAndGlyphs">Rata-rata Jan  - Des’17</text>
<line x1="763" y1="591.4" x2="789.6" y2="591.4" stroke="#2c2850" stroke-width="3"/>
<text x="792" y="594.4" class="lg" xml:space="preserve" textLength="89.8" lengthAdjust="spacingAndGlyphs">Rata-rata Jan  - Des’18*)</text>
<rect x="172.5" y="171.3" width="487" height="68.2" fill="#ffff99" stroke="#000" stroke-width="1.2"/>
<text x="192.3" y="190.6" class="bx" textLength="20.1" lengthAdjust="spacingAndGlyphs">ICP</text>
<text x="216.0" y="190.6" class="bx" textLength="20.2" lengthAdjust="spacingAndGlyphs">Jan</text>
<text x="241.7" y="190.6" class="bx" textLength="30.7" lengthAdjust="spacingAndGlyphs">2018</text>
<text x="278.6" y="190.6" class="bx" textLength="39.5" lengthAdjust="spacingAndGlyphs">(Final)</text>
<text x="480.5" y="190.6" class="bx" textLength="23.8" lengthAdjust="spacingAndGlyphs">US$</text>
<text x="524.4" y="190.6" class="bx" textLength="64.5" lengthAdjust="spacingAndGlyphs">65,59/bbl;</text>
<text x="192.3" y="209.5" class="bx" textLength="20.1" lengthAdjust="spacingAndGlyphs">ICP</text>
<text x="216.4" y="209.5" class="bx" textLength="60.9" lengthAdjust="spacingAndGlyphs">Rata-rata</text>
<text x="284.6" y="209.5" class="bx" textLength="21.1" lengthAdjust="spacingAndGlyphs">Jan</text>
<text x="308.4" y="209.5" class="bx" textLength="7.3" lengthAdjust="spacingAndGlyphs">–</text>
<text x="320.3" y="209.5" class="bx" textLength="23.7" lengthAdjust="spacingAndGlyphs">Des</text>
<text x="346.5" y="209.5" class="bx">’</text>
<text x="351.4" y="209.5" class="bx" textLength="14.6" lengthAdjust="spacingAndGlyphs">17</text>
<text x="480.5" y="209.5" class="bx" textLength="23.8" lengthAdjust="spacingAndGlyphs">US$</text>
<text x="523.6" y="209.5" class="bx" textLength="64.7" lengthAdjust="spacingAndGlyphs">51,19/bbl;</text>
<text x="192.3" y="228.0" class="bx" textLength="20.1" lengthAdjust="spacingAndGlyphs">ICP</text>
<text x="216.4" y="228.0" class="bx" textLength="60.9" lengthAdjust="spacingAndGlyphs">Rata-rata</text>
<text x="284.6" y="228.0" class="bx" textLength="21.1" lengthAdjust="spacingAndGlyphs">Jan</text>
<text x="308.4" y="228.0" class="bx" textLength="7.3" lengthAdjust="spacingAndGlyphs">–</text>
<text x="320.3" y="228.0" class="bx" textLength="23.7" lengthAdjust="spacingAndGlyphs">Des</text>
<text x="346.5" y="228.0" class="bx">’</text>
<text x="351.4" y="228.0" class="bx" textLength="14.6" lengthAdjust="spacingAndGlyphs">16</text>
<text x="480.5" y="228.0" class="bx" textLength="23.8" lengthAdjust="spacingAndGlyphs">US$</text>
<text x="523.6" y="228.0" class="bx" textLength="64.7" lengthAdjust="spacingAndGlyphs">40,13/bbl;</text>
<text x="523" y="76" class="tt" text-anchor="middle" textLength="651" lengthAdjust="spacingAndGlyphs">Perkembangan Harga Minyak Mentah Indonesia</text>
<text x="75.3" y="128" class="un" textLength="80.8" lengthAdjust="spacingAndGlyphs">US$ per barel</text>
<text x="82.5" y="693" class="fn" xml:space="preserve" textLength="228.5" lengthAdjust="spacing">*) Rata-rata  sampai  tgl  31 Jan 2018</text>
</svg>
</body></html>
